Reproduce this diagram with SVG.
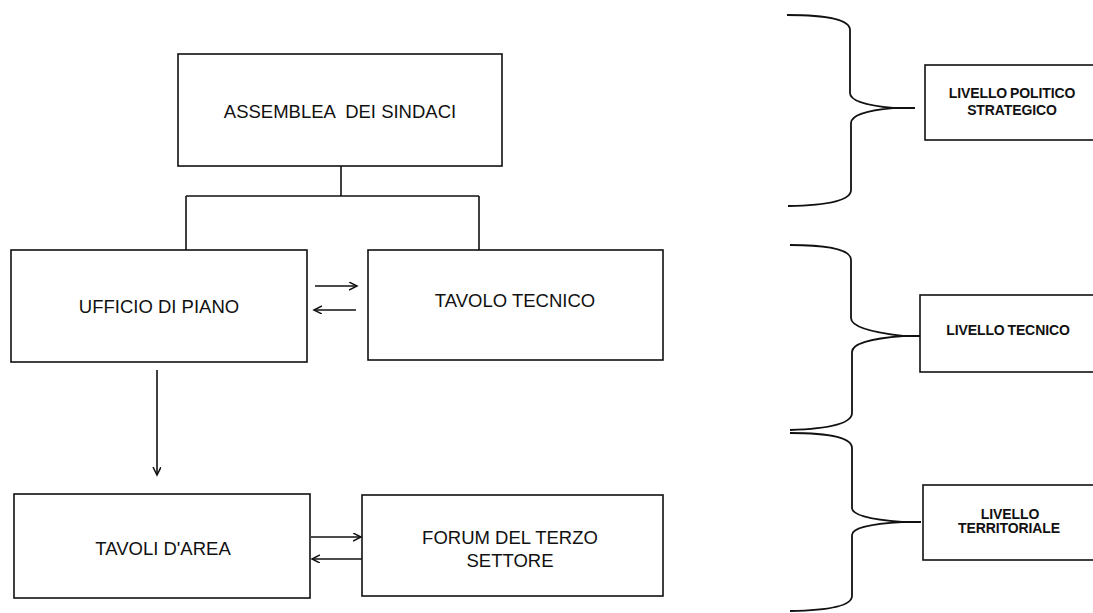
<svg xmlns="http://www.w3.org/2000/svg" width="1093" height="613" viewBox="0 0 1093 613">
<style>
.box{fill:#fff;stroke:#111;stroke-width:1.6}
.t{font-family:"Liberation Sans",Arial,sans-serif;font-size:18.5px;fill:#111;text-anchor:middle}
.s{font-family:"Liberation Sans",Arial,sans-serif;font-size:14px;font-weight:bold;fill:#111;text-anchor:middle;letter-spacing:-0.1px}
.ln{fill:none;stroke:#111;stroke-width:1.6}
.br{fill:none;stroke:#111;stroke-width:1.8}
</style>
<defs>
<marker id="ah" markerWidth="10" markerHeight="10" refX="8" refY="4" orient="auto" markerUnits="userSpaceOnUse">
<path d="M0,0 L8,4 L0,8" fill="none" stroke="#111" stroke-width="1.5"/>
</marker>
</defs>
<rect width="1093" height="613" fill="#fff"/>
<g id="connectors">
<path class="ln" d="M341,166 V196 M186,196 H479 M186,196 V250 M479,196 V250"/>
<path class="ln" d="M315,286 H357" marker-end="url(#ah)"/>
<path class="ln" d="M356,310 H314" marker-end="url(#ah)"/>
<path class="ln" d="M157,370 V475" marker-end="url(#ah)"/>
<path class="ln" d="M311,537 H361" marker-end="url(#ah)"/>
<path class="ln" d="M362,559 H312" marker-end="url(#ah)"/>
<path class="br" d="M787,15 Q850,15 850,30 L850,93 Q850,104 893,108 Q851,112 851,123 L851,190 Q851,205 788,206 M893,108 H915"/>
<path class="br" d="M790,245 Q851,245 851,260 L851,318 Q851,330 903,336 Q852,340 852,352 L852,413 Q852,428 790,430 M903,336 H920"/>
<path class="br" d="M790,433 Q852,433 852,448 L852,508 Q852,518 902,522 Q852,525 852,535 L852,596 Q852,610 790,611 M902,522 H921"/>
</g>
<g id="assemblea">
<rect class="box" x="178" y="54" width="324" height="112"/>
<text class="t" x="340" y="118" xml:space="preserve">ASSEMBLEA  DEI SINDACI</text>
</g>
<g id="ufficio">
<rect class="box" x="11" y="250" width="296" height="112"/>
<text class="t" x="159" y="313">UFFICIO DI PIANO</text>
</g>
<g id="tavolo-tecnico">
<rect class="box" x="368" y="250" width="295" height="110"/>
<text class="t" x="515" y="307">TAVOLO TECNICO</text>
</g>
<g id="tavoli-area">
<rect class="box" x="14" y="494" width="296" height="104"/>
<text class="t" x="163" y="555">TAVOLI D'AREA</text>
</g>
<g id="forum">
<rect class="box" x="362" y="495" width="301" height="101"/>
<text class="t" x="510" y="544">FORUM DEL TERZO</text>
<text class="t" x="510" y="567">SETTORE</text>
</g>
<g id="livello-politico">
<rect class="box" x="925" y="65" width="180" height="75"/>
<text class="s" x="1012" y="98" word-spacing="-1">LIVELLO POLITICO</text>
<text class="s" x="1012" y="115">STRATEGICO</text>
</g>
<g id="livello-tecnico">
<rect class="box" x="920" y="295" width="180" height="77"/>
<text class="s" x="1008" y="335" word-spacing="-1">LIVELLO TECNICO</text>
</g>
<g id="livello-territoriale">
<rect class="box" x="923" y="485" width="180" height="75"/>
<text class="s" x="1010" y="519">LIVELLO</text>
<text class="s" x="1009" y="533">TERRITORIALE</text>
</g>
</svg>
